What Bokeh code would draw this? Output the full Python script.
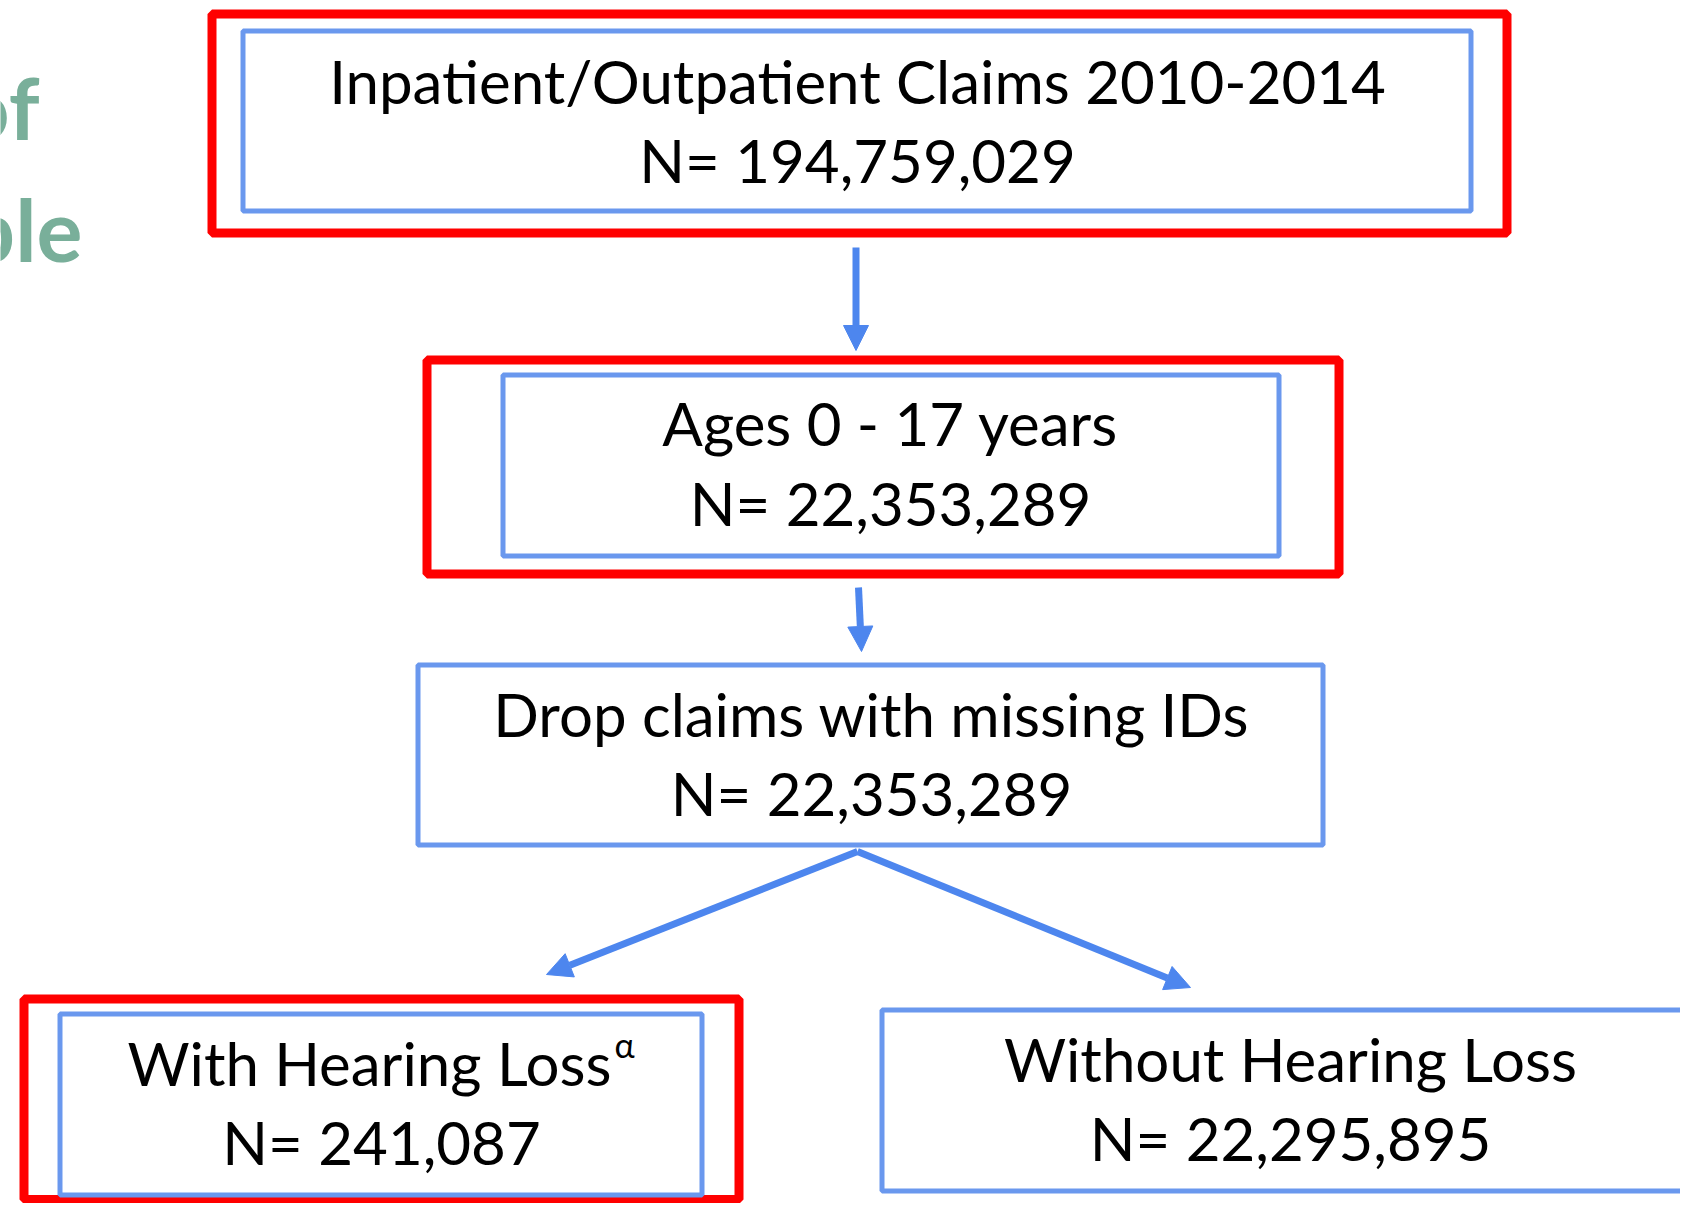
from bokeh.plotting import figure
from bokeh.models import Range1d, Arrow, NormalHead, ColumnDataSource
from bokeh.core.properties import value
from bokeh.embed import file_html
from bokeh.resources import INLINE

# ---- content ----
titles = ["Inpatient/Outpatient Claims 2010-2014", "Ages 0 - 17 years",
          "Drop claims with missing IDs", "With Hearing Loss", "Without Hearing Loss"]
counts = [194759029, 22353289, 22353289, 241087, 22295895]
superscript = "α"
side_title = ["of", "ple"]

# ---- layout (image pixel coordinates) ----
W, H = 1680, 1203
FONT = "Lato"
BLUE_BOX = "#6A98EE"
ARROW = "#4D86EE"
RED = "#FF0000"
GREEN = "#79AF9A"

red_left = [211.5, 426.5, 23.5]
red_right = [1506.5, 1338.5, 738.5]
red_top = [13.5, 359.5, 998.5]
red_bottom = [232.5, 573.5, 1199.0]

blue_left = [242.5, 502.5, 417.5, 59.5, 881.5]
blue_right = [1470.5, 1278.5, 1322.5, 701.5, 1700.0]
blue_top = [30.5, 374.5, 664.5, 1013.5, 1009.5]
blue_bottom = [210.5, 555.5, 844.5, 1194.5, 1190.5]

title_x = [857, 890, 871, 611, 1290]
count_x = [857, 890, 871, 381, 1290]
title_base = [80, 422, 713, 1062, 1058]
count_base = [159, 502, 792, 1141, 1137]

arrow_x0 = [855.5, 858, 857, 857]
arrow_y0 = [247, 587, 851, 851]
arrow_x1 = [855.5, 861, 546, 1190]
arrow_y1 = [350, 651, 974, 987]

p = figure(width=W, height=H, x_range=Range1d(0, W), y_range=Range1d(H, 0),
           output_backend="svg", toolbar_location=None, x_axis_type=None, y_axis_type=None,
           min_border=0)
p.outline_line_color = None
p.grid.visible = False
p.background_fill_color = "white"

# red highlight boxes
p.quad(left=red_left, right=red_right, top=red_top, bottom=red_bottom,
       fill_alpha=0, line_color=RED, line_width=9)
# blue boxes
p.quad(left=blue_left, right=blue_right, top=blue_top, bottom=blue_bottom,
       fill_alpha=0, line_color=BLUE_BOX, line_width=5)

# arrows
for x0, y0, x1, y1 in zip(arrow_x0, arrow_y0, arrow_x1, arrow_y1):
    p.add_layout(Arrow(x_start=x0, y_start=y0, x_end=x1, y_end=y1,
                       line_color=ARROW, line_width=7,
                       end=NormalHead(size=25, fill_color=ARROW, line_color=ARROW, line_width=1)))

fs = "60px"
count_labels = ["N= {:,}".format(c) for c in counts]

centered = (0, 1, 2, 4)
src_t = ColumnDataSource(dict(x=[title_x[i] for i in centered],
                              y=[title_base[i] for i in centered],
                              t=[titles[i] for i in centered]))
p.text(x="x", y="y", text="t", source=src_t, text_align="center", text_baseline="alphabetic",
       text_font=value(FONT), text_font_size=fs, text_color="black")
# "With Hearing Loss" + superscript alpha
p.text(x=[title_x[3]], y=[title_base[3]], text=[titles[3]], text_align="right",
       text_baseline="alphabetic", text_font=value(FONT), text_font_size=fs, text_color="black")
p.text(x=[title_x[3] + 3], y=[title_base[3] - 18], text=[superscript], text_align="left",
       text_baseline="alphabetic", text_font=value(FONT), text_font_size="34px", text_color="black")

p.text(x=count_x, y=count_base, text=count_labels, text_align="center", text_baseline="alphabetic",
       text_font=value(FONT), text_font_size=fs, text_color="black")

# clipped side title fragments
p.text(x=[39, 82], y=[106, 228], text=side_title, text_align="right", text_baseline="alphabetic",
       text_font=value(FONT), text_font_size="86px", text_font_style="bold", text_color=GREEN)

open("out.html", "w").write(file_html(p, INLINE))
